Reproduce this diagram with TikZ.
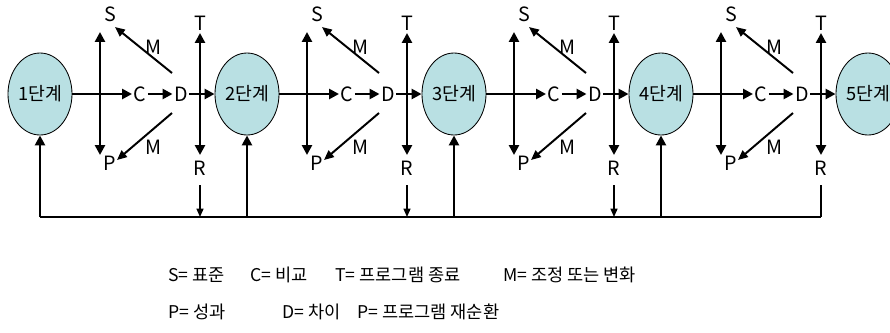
\documentclass[tikz,border=0pt]{standalone}
\usepackage{fontspec}
\setmainfont{Noto Sans CJK KR}
\usepackage{tikz}
\usetikzlibrary{arrows.meta, shapes.geometric}
\definecolor{stagefill}{HTML}{B9E0E3}

\begin{document}
\begin{tikzpicture}[
    x=0.025cm, y=-0.025cm,
    stage/.style={ellipse, draw, line width=0.6pt, fill=stagefill, minimum width=1.6cm, minimum height=2.05cm, inner sep=0pt, font=\fontsize{13}{15}\selectfont},
    lbl/.style={inner sep=1pt, font=\fontsize{14}{16}\selectfont},
    legend/.style={anchor=west, inner sep=0pt, font=\fontsize{12.5}{14}\selectfont},
    arrow/.style={-{Triangle[length=7pt,width=7pt]}, line width=1.8pt},
    dblarrow/.style={{Triangle[length=7pt,width=7pt]}-{Triangle[length=7pt,width=7pt]}, line width=1.8pt},
    marrow/.style={-{Triangle[length=7pt,width=6pt]}, line width=1.4pt},
    thinarrow/.style={-{Triangle[length=6pt,width=5pt]}, line width=1pt},
    line/.style={line width=1.8pt}
]
\useasboundingbox (0,0) rectangle (890,332);
\clip (0,0) rectangle (890,332);

% 단계
\foreach \i in {1,...,5}
  \node[stage] (st\i) at ({40+207*(\i-1)},94) {{\i}단계};

% 각 단계 사이의 비교 고리
\foreach \i [evaluate=\i as \x using {40+207*(\i-1)}, evaluate=\i as \j using int(\i+1)] in {1,...,4} {
  \node[lbl] (s\i) at (\x+70,14) {S};
  \node[lbl] (p\i) at (\x+70,163) {P};
  \node[lbl] (c\i) at (\x+100,94) {C};
  \node[lbl] (d\i) at (\x+141,94) {D};
  \node[lbl] (t\i) at (\x+160,23) {T};
  \node[lbl] (r\i) at (\x+160,168) {R};
  \node[lbl] (mu\i) at (\x+113,47) {M};
  \node[lbl] (ml\i) at (\x+113,147) {M};
  \coordinate (spt\i) at (\x+60,32);
  \coordinate (spb\i) at (\x+60,155);
  \coordinate (trt\i) at (\x+160,33);
  \coordinate (trb\i) at (\x+160,155);
  \coordinate (mus\i) at (\x+132,73);
  \coordinate (mue\i) at (\x+75,27);
  \coordinate (mls\i) at (\x+132,113);
  \coordinate (mle\i) at (\x+77,160);
  \coordinate (rs\i) at (\x+160,185);
  \coordinate (re\i) at (\x+160,217);
  \coordinate (fb\i) at (\x,217);

  \draw[dblarrow] (spt\i) -- (spb\i);
  \draw[dblarrow] (trt\i) -- (trb\i);
  \draw[arrow] (st\i) -- (c\i);
  \draw[arrow] (c\i) -- (d\i);
  \draw[arrow] (d\i) -- (st\j);
  \draw[marrow] (mus\i) -- (mue\i);
  \draw[marrow] (mls\i) -- (mle\i);
  \draw[arrow] (fb\i) -- (st\i);
}

% 재순환 선
\foreach \i in {1,...,3}
  \draw[thinarrow] (rs\i) -- (re\i);
\draw[line width=1pt] (rs4) -- (re4);
\draw[line] (fb1) -- (re4);

% 범례
\node[legend] (lgs) at (168,275) {S= 표준};
\node[legend] (lgc) at (250,275) {C= 비교};
\node[legend] (lgt) at (335,275) {T= 프로그램 종료};
\node[legend] (lgm) at (503,275) {M= 조정 또는 변화};
\node[legend] (lgp) at (168,312) {P= 성과};
\node[legend] (lgd) at (282,312) {D= 차이};
\node[legend] (lgr) at (357,312) {P= 프로그램 재순환};
\end{tikzpicture}
\end{document}
